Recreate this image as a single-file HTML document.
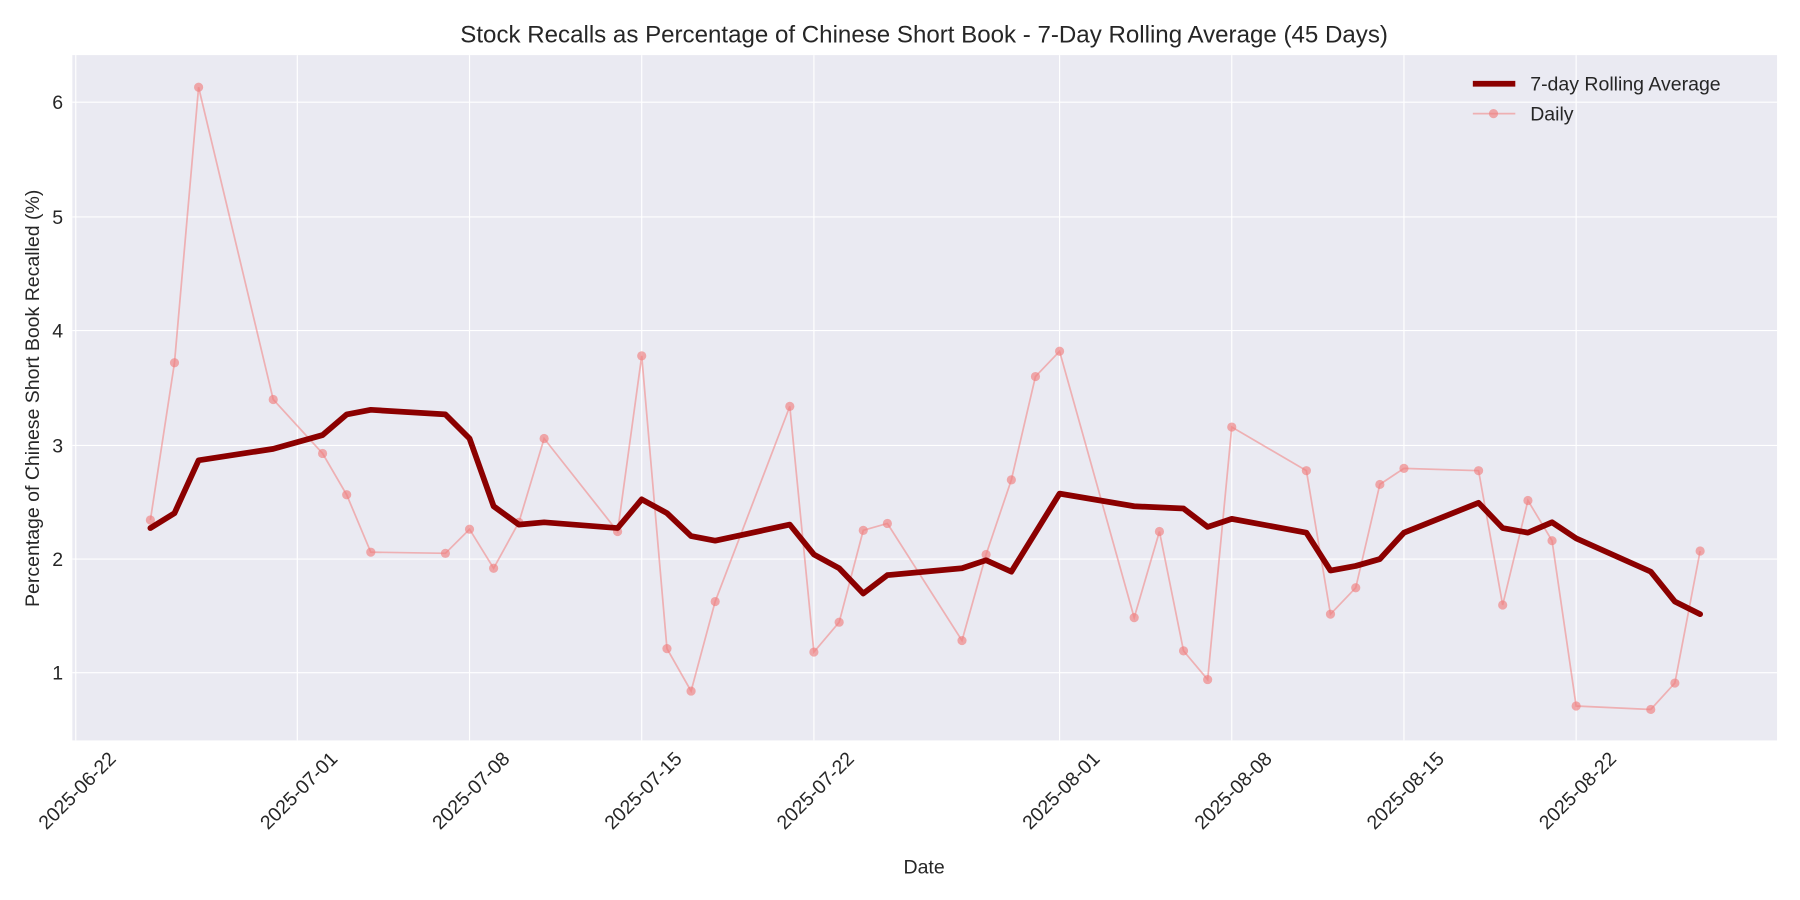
<!DOCTYPE html>
<html><head><meta charset="utf-8"><style>body{margin:0;background:#fff}svg{display:block;font-family:"Liberation Sans","DejaVu Sans",sans-serif}</style></head>
<body>
<svg width="1800" height="900" viewBox="0 0 1568 784" xmlns="http://www.w3.org/2000/svg">
<rect width="1568" height="784" fill="#fff"/>
<rect x="63" y="48" width="1485" height="597" fill="#eaeaf2"/>
<g stroke="#fff" stroke-width="1">
<line x1="63" x2="1548" y1="586" y2="586"/><line x1="63" x2="1548" y1="487" y2="487"/><line x1="63" x2="1548" y1="388" y2="388"/><line x1="63" x2="1548" y1="288" y2="288"/><line x1="63" x2="1548" y1="189" y2="189"/><line x1="63" x2="1548" y1="89" y2="89"/>
<line y1="48" y2="645" x1="66" x2="66"/><line y1="48" y2="645" x1="259" x2="259"/><line y1="48" y2="645" x1="409" x2="409"/><line y1="48" y2="645" x1="559" x2="559"/><line y1="48" y2="645" x1="709" x2="709"/><line y1="48" y2="645" x1="923" x2="923"/><line y1="48" y2="645" x1="1073" x2="1073"/><line y1="48" y2="645" x1="1223" x2="1223"/><line y1="48" y2="645" x1="1373" x2="1373"/>
</g>
<polyline fill="none" stroke="#f08080" stroke-opacity="0.55" stroke-width="1.5" points="131,453 152,316 173,76 238,348 281,395 302,431 323,481 388,482 409,461 430,495 452,455 474,382 538,463 559,310 581,565 602,602 623,524 688,354 709,568 731,542 752,462 773,456 838,558 859,483 881,418 902,328 923,306 988,538 1010,463 1031,567 1052,592 1073,372 1138,410 1159,535 1181,512 1202,422 1223,408 1288,410 1309,527 1331,436 1352,471 1373,615 1438,618 1459,595 1481,480"/>
<g fill="#f08080" fill-opacity="0.65">
<circle cx="131" cy="453" r="4"/><circle cx="152" cy="316" r="4"/><circle cx="173" cy="76" r="4"/><circle cx="238" cy="348" r="4"/><circle cx="281" cy="395" r="4"/><circle cx="302" cy="431" r="4"/><circle cx="323" cy="481" r="4"/><circle cx="388" cy="482" r="4"/><circle cx="409" cy="461" r="4"/><circle cx="430" cy="495" r="4"/><circle cx="452" cy="455" r="4"/><circle cx="474" cy="382" r="4"/><circle cx="538" cy="463" r="4"/><circle cx="559" cy="310" r="4"/><circle cx="581" cy="565" r="4"/><circle cx="602" cy="602" r="4"/><circle cx="623" cy="524" r="4"/><circle cx="688" cy="354" r="4"/><circle cx="709" cy="568" r="4"/><circle cx="731" cy="542" r="4"/><circle cx="752" cy="462" r="4"/><circle cx="773" cy="456" r="4"/><circle cx="838" cy="558" r="4"/><circle cx="859" cy="483" r="4"/><circle cx="881" cy="418" r="4"/><circle cx="902" cy="328" r="4"/><circle cx="923" cy="306" r="4"/><circle cx="988" cy="538" r="4"/><circle cx="1010" cy="463" r="4"/><circle cx="1031" cy="567" r="4"/><circle cx="1052" cy="592" r="4"/><circle cx="1073" cy="372" r="4"/><circle cx="1138" cy="410" r="4"/><circle cx="1159" cy="535" r="4"/><circle cx="1181" cy="512" r="4"/><circle cx="1202" cy="422" r="4"/><circle cx="1223" cy="408" r="4"/><circle cx="1288" cy="410" r="4"/><circle cx="1309" cy="527" r="4"/><circle cx="1331" cy="436" r="4"/><circle cx="1352" cy="471" r="4"/><circle cx="1373" cy="615" r="4"/><circle cx="1438" cy="618" r="4"/><circle cx="1459" cy="595" r="4"/><circle cx="1481" cy="480" r="4"/>
</g>
<polyline fill="none" stroke="#8b0000" stroke-width="5" stroke-linejoin="round" stroke-linecap="round" points="131,460 152,447 173,401 238,391 281,379 302,361 323,357 388,361 409,382 430,441 452,457 474,455 538,460 559,435 581,447 602,467 623,471 688,457 709,483 731,495 752,517 773,501 838,495 859,488 881,498 923,430 988,441 1031,443 1052,459 1073,452 1138,464 1159,497 1181,493 1202,487 1223,464 1288,438 1309,460 1331,464 1352,455 1373,469 1438,498 1459,524 1481,535"/>
<g font-size="17" fill="#262626" text-anchor="end">
<text x="55" y="592">1</text><text x="55" y="493">2</text><text x="55" y="394">3</text><text x="55" y="294">4</text><text x="55" y="195">5</text><text x="55" y="95">6</text>
</g>
<g font-size="17" fill="#262626" text-anchor="end">
<text transform="translate(102,662) rotate(-45)">2025-06-22</text>
<text transform="translate(295,662) rotate(-45)">2025-07-01</text>
<text transform="translate(445,662) rotate(-45)">2025-07-08</text>
<text transform="translate(595,662) rotate(-45)">2025-07-15</text>
<text transform="translate(745,662) rotate(-45)">2025-07-22</text>
<text transform="translate(959,662) rotate(-45)">2025-08-01</text>
<text transform="translate(1109,662) rotate(-45)">2025-08-08</text>
<text transform="translate(1259,662) rotate(-45)">2025-08-15</text>
<text transform="translate(1409,662) rotate(-45)">2025-08-22</text>
</g>
<text x="805" y="761" font-size="17" fill="#262626" text-anchor="middle">Date</text>
<text transform="translate(34,347) rotate(-90)" font-size="17" fill="#262626" text-anchor="middle">Percentage of Chinese Short Book Recalled (%)</text>
<text x="805" y="37" font-size="21" fill="#262626" text-anchor="middle">Stock Recalls as Percentage of Chinese Short Book - 7-Day Rolling Average (45 Days)</text>
<line x1="1283" x2="1320" y1="73" y2="73" stroke="#8b0000" stroke-width="5"/>
<text x="1333" y="79" font-size="17" fill="#262626">7-day Rolling Average</text>
<line x1="1283" x2="1320" y1="99" y2="99" stroke="#f08080" stroke-opacity="0.55" stroke-width="1.5"/>
<circle cx="1301" cy="99" r="4" fill="#f08080" fill-opacity="0.65"/>
<text x="1333" y="105" font-size="17" fill="#262626">Daily</text>
</svg>
</body></html>
